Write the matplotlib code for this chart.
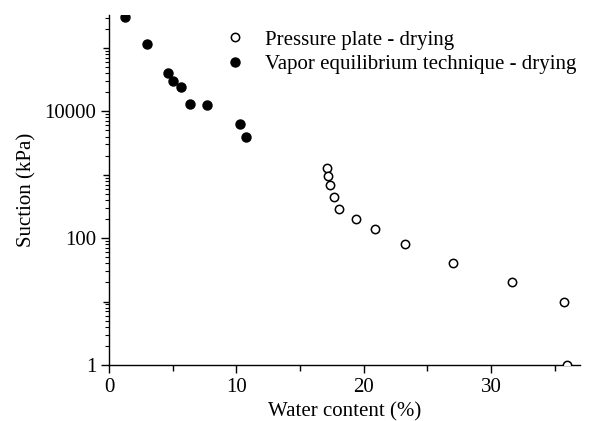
import matplotlib
matplotlib.use("Agg")
import matplotlib.pyplot as plt
from matplotlib.ticker import FixedLocator, NullFormatter, FixedFormatter

plt.rcParams['font.family'] = ['Liberation Serif', 'DejaVu Serif']

# Pressure plate - drying
pp_w = [17.10, 17.20, 17.34, 17.65, 18.04, 19.38, 20.87, 23.28, 27.02, 31.68, 35.72, 36.0]
pp_s = [1298, 957, 691, 438, 286, 199, 139, 80.5, 40, 20, 10, 1]

# Vapor equilibrium technique - drying
ve_w = [1.26, 2.96, 4.63, 5.03, 5.63, 6.39, 7.70, 10.27, 10.79]
ve_s = [305000, 116000, 39700, 29600, 24100, 12900, 12400, 6240, 4000]

x_ticks = [0, 10, 20, 30]
y_labels = ["1", "", "100", "", "10000", ""]
y_major = [1, 10, 100, 1000, 10000, 100000]

fig = plt.figure(figsize=(5.94, 4.21), dpi=100)
ax = fig.add_axes([0.1835, 0.133, 0.7929, 0.8314])

ax.plot(pp_w, pp_s, 'o', ms=6, mfc='white', mec='black', mew=1.1,
        label='Pressure plate - drying', clip_on=True, zorder=3)
ax.plot(ve_w, ve_s, 'o', ms=6.5, mfc='black', mec='black',
        label='Vapor equilibrium technique - drying', clip_on=True, zorder=3)

ax.set_yscale('log')
ax.set_xlim(0, 37)
ax.set_ylim(1, 3.3e5)

ax.spines['top'].set_visible(False)
ax.spines['right'].set_visible(False)
for s in ('left', 'bottom'):
    ax.spines[s].set_linewidth(1.0)

ax.xaxis.set_major_locator(FixedLocator(x_ticks))
ax.xaxis.set_minor_locator(FixedLocator([5, 15, 25, 35]))
ax.yaxis.set_major_locator(FixedLocator(y_major))
ax.yaxis.set_major_formatter(FixedFormatter(y_labels))
minors = [m * 10**e for e in range(0, 6) for m in range(2, 10)]
ax.yaxis.set_minor_locator(FixedLocator(minors))
ax.yaxis.set_minor_formatter(NullFormatter())

ax.tick_params(axis='both', which='major', direction='out', length=6, width=1,
               labelsize=15, pad=3)
ax.tick_params(axis='x', which='minor', direction='out', length=4, width=1)
ax.tick_params(axis='y', which='minor', direction='out', length=3, width=0.8)

for i, t in enumerate(ax.yaxis.get_major_ticks()):
    if y_labels[i] == "":
        t.tick1line.set_markersize(4.5)

ax.set_xlabel('Water content (%)', fontsize=15, labelpad=4)
ax.set_ylabel('Suction (kPa)', fontsize=15, labelpad=6)

leg = ax.legend(loc='upper left', bbox_to_anchor=(0.2166, 0.981), frameon=False,
                fontsize=15, handletextpad=0.7, labelspacing=0.25,
                borderaxespad=0, handlelength=1.5)

fig.savefig('out.png', dpi=100)
